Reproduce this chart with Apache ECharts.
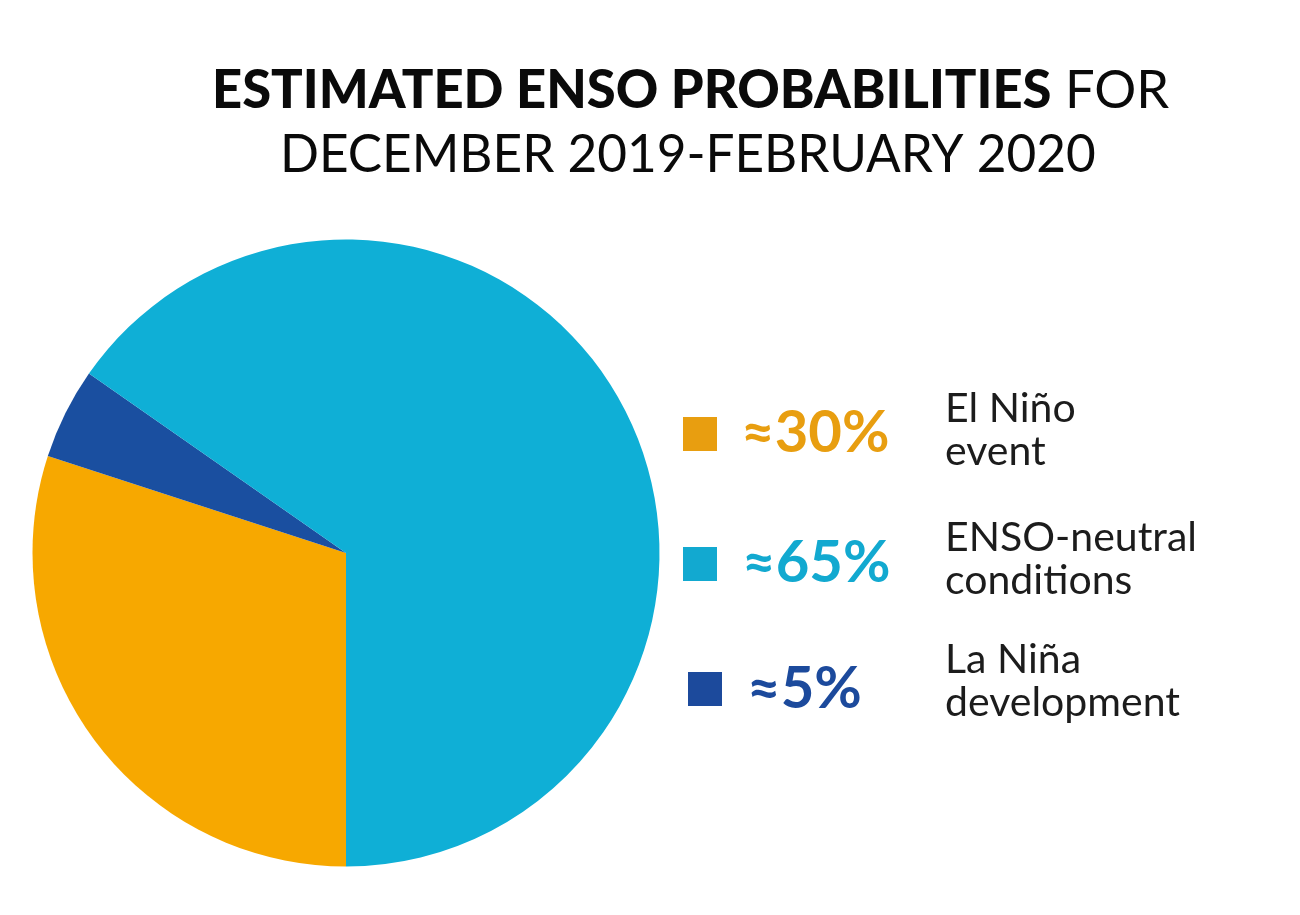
<!DOCTYPE html>
<html>
<head>
<meta charset="utf-8">
<style>
html, body { margin: 0; padding: 0; background: #fff; }
#chart { width: 1300px; height: 915px; }
</style>
<script src="https://cdn.jsdelivr.net/npm/echarts@6/dist/echarts.min.js"></script>
</head>
<body>
<div id="chart"></div>
<script>
var categories = ['El Niño event', 'La Niña development', 'ENSO-neutral conditions'];
var values = [30, 4.7, 65.3];
var colors = ['#f7a800', '#1a4fa0', '#0fafd6'];
var legendOrder = [0, 2, 1];
var legendColors = ['#e89e10', '#12a9d0', '#1c4a9c'];
var legendPercents = ['≈30%', '≈65%', '≈5%'];
var legendLines = ['El Niño\nevent', 'ENSO-neutral\nconditions', 'La Niña\ndevelopment'];
var legendSquareX = [683, 683, 688];
var legendSquareY = [417, 547, 672];
var legendPercentX = [741, 742, 747];
var legendPercentY = [433, 563, 689];
var legendTextY = [430, 559, 681];

var fontName = '"Lato", "Open Sans", sans-serif';
var graphics = [];
legendOrder.forEach(function (idx, i) {
    graphics.push({
        type: 'rect',
        shape: {x: legendSquareX[i], y: legendSquareY[i], width: 34, height: 34},
        style: {fill: legendColors[i]}
    });
    graphics.push({
        type: 'text',
        x: legendPercentX[i],
        y: legendPercentY[i],
        style: {
            text: legendPercents[i],
            fill: legendColors[i],
            font: '700 58px ' + fontName,
            verticalAlign: 'middle'
        }
    });
    graphics.push({
        type: 'text',
        x: 945,
        y: legendTextY[i],
        style: {
            text: legendLines[i],
            fill: '#1c1c1c',
            font: '400 41px ' + fontName,
            lineHeight: 43,
            verticalAlign: 'middle'
        }
    });
});

var myChart = echarts.init(document.getElementById('chart'), null, {renderer: 'canvas'});
myChart.setOption({
    backgroundColor: '#fff',
    animation: false,
    title: [
        {
            text: '{b|ESTIMATED ENSO PROBABILITIES}{n| FOR}',
            left: 207, top: 60,
            textStyle: {rich: {
                b: {fontFamily: fontName, fontWeight: 900, fontSize: 52.5, color: '#0a0a0a'},
                n: {fontFamily: fontName, fontWeight: 400, fontSize: 52.5, color: '#0a0a0a'}
            }}
        },
        {
            text: 'DECEMBER 2019-FEBRUARY 2020',
            left: 275, top: 125,
            textStyle: {fontFamily: fontName, fontWeight: 400, fontSize: 51.3, color: '#0a0a0a'}
        }
    ],
    series: [{
        type: 'pie',
        center: [346, 553],
        radius: [0, 313.5],
        startAngle: 270,
        clockwise: true,
        label: {show: false},
        labelLine: {show: false},
        silent: true,
        data: categories.map(function (name, i) {
            return {name: name, value: values[i], itemStyle: {color: colors[i]}};
        })
    }],
    graphic: graphics
});
</script>
</body>
</html>
